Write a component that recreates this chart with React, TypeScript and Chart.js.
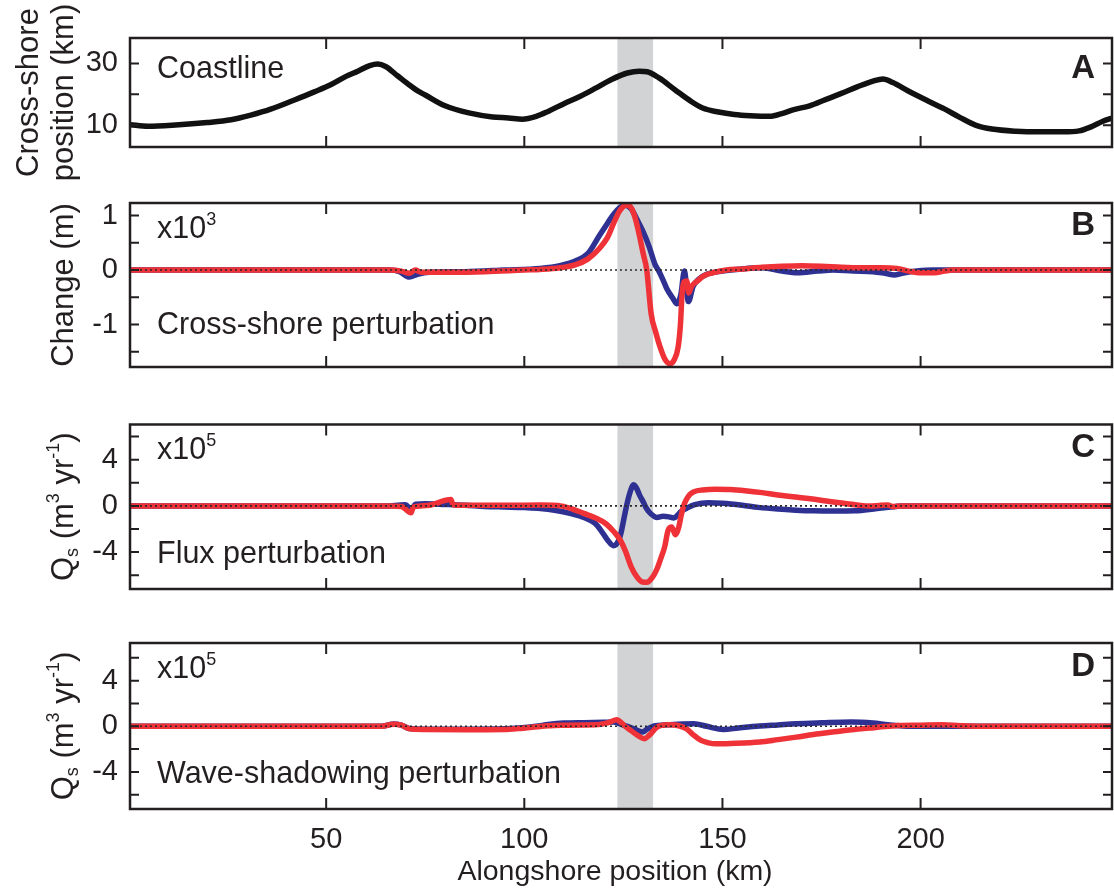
import React, { useEffect, useRef } from "react";
import { Chart, registerables } from "chart.js";

Chart.register(...registerables);

const W = 1114;
const H = 888;
const FONT = "'Liberation Sans', Arial, Helvetica, sans-serif";
const INK = "#231f20";
const BLUE = "#2e3192";
const RED = "#ee3237";
const SHADE = "#d1d3d4";
const FS_TICK = 29;
const FS_NOTE = 30.5;
const FS_TITLE = 31;
const FS_XTITLE = 28.5;
const FS_SUP = 18;

const X_MIN = 0.5;
const X_MAX = 248.3;
const X_TICKS = [50, 100, 150, 200];
const SHADE_START = 123.5;
const SHADE_END = 132.5;

// ---------- Panel A: coastline ----------
const coastX = [0.5, 5, 12, 20, 26, 31, 36, 42, 47, 51, 55, 58, 61, 63, 65, 68, 71, 73, 75, 80, 86, 92, 96, 99.5, 103, 106, 110, 114, 118, 122, 126, 129, 131, 134, 138, 142, 145, 149, 153, 157, 162, 165, 168, 172, 176, 180, 184, 188, 190.5, 193, 197, 202, 206, 210, 214, 218, 224, 230, 236, 240, 243, 246, 248.5];
const coastY = [10.2, 9.7, 10.1, 10.9, 11.8, 13.3, 15.2, 18.2, 20.8, 23.0, 25.8, 27.5, 29.3, 29.8, 29.0, 26.0, 23.0, 21.2, 19.8, 16.3, 14.0, 12.7, 12.4, 12.0, 12.9, 14.5, 17.0, 19.3, 22.0, 24.8, 26.9, 27.5, 27.3, 25.3, 21.5, 17.8, 15.6, 14.3, 13.5, 13.1, 12.9, 13.8, 15.1, 16.3, 18.3, 20.3, 22.4, 24.3, 25.0, 23.8, 21.0, 17.8, 15.3, 12.5, 10.0, 8.8, 8.1, 7.9, 7.9, 8.2, 9.5, 11.3, 12.4];

// ---------- Panel B: cross-shore perturbation (x10^3 m) ----------
const bBlueX = [0.5, 60, 66, 68.5, 71, 73, 76, 85, 95, 104, 109, 113, 116, 119, 121, 122.5, 124, 125.5, 127, 128.5, 130, 131.5, 133, 133.8, 135, 136, 137.5, 138.5, 139.5, 140.4, 141.4, 142.6, 144, 146, 150, 155, 160, 165, 169, 174, 178, 183, 188, 191, 193.5, 196, 199, 203, 210, 248.5];
const bBlueY = [0, 0, 0, -0.03, -0.13, -0.08, -0.04, -0.03, 0.0, 0.03, 0.08, 0.17, 0.3, 0.64, 0.86, 1.02, 1.14, 1.19, 1.12, 0.92, 0.7, 0.43, 0.1, 0.0, -0.18, -0.35, -0.52, -0.62, -0.45, -0.02, -0.58, -0.3, -0.17, -0.08, -0.02, 0.02, 0.04, -0.02, -0.05, -0.02, 0.0, -0.02, -0.03, -0.06, -0.09, -0.05, -0.02, 0, 0, 0];
const bRedX = [0.5, 66, 69, 71, 72.5, 74, 80, 90, 100, 104, 109, 113, 116, 119, 121, 122.5, 124, 125.7, 127, 128, 129, 130, 130.9, 132, 133.2, 134.3, 135.5, 136.7, 137.8, 138.8, 139.4, 139.8, 140.3, 141, 141.5, 142.2, 143.7, 145.5, 147.5, 151, 155, 160, 165, 170, 175, 180, 185, 190, 194, 197, 200, 203.5, 206, 208, 248.5];
const bRedY = [0, 0, -0.02, -0.06, 0.0, -0.04, -0.04, -0.03, 0.0, 0.01, 0.04, 0.1, 0.2, 0.4, 0.6, 0.85, 1.08, 1.19, 1.14, 0.95, 0.65, 0.3, 0.0, -0.8, -1.15, -1.42, -1.64, -1.72, -1.65, -1.42, -1.0, -0.45, -0.22, -0.2, -0.42, -0.3, -0.2, -0.1, -0.05, 0.0, 0.02, 0.05, 0.07, 0.08, 0.07, 0.05, 0.04, 0.04, 0.03, -0.02, -0.05, -0.05, -0.02, 0, 0];

// ---------- Panel C: flux perturbation (x10^5 m3/yr) ----------
const cBlueX = [0.5, 66, 68, 70, 71.5, 72.5, 75, 80, 85, 90, 95, 100, 104, 108, 111.5, 115, 117.8, 119.5, 121, 122.5, 123.8, 124.5, 125.2, 126, 126.8, 127.5, 128.3, 129, 130, 130.8, 132, 133.5, 135, 136.5, 137.7, 138.7, 139.5, 141, 143, 146.5, 150, 155, 159, 164, 168.5, 173, 178, 183.5, 189, 192.5, 195, 198, 248.5];
const cBlueY = [0, 0, 0.05, 0.1, -0.3, 0.15, 0.18, 0.12, 0.05, -0.05, -0.1, -0.15, -0.22, -0.4, -0.65, -1.0, -1.5, -2.2, -2.95, -3.45, -3.0, -2.2, -1.0, 0.3, 1.3, 1.82, 1.55, 1.0, 0.35, -0.2, -0.7, -1.0, -0.9, -0.95, -1.05, -0.8, -0.5, -0.2, 0.1, 0.27, 0.22, 0.05, -0.13, -0.28, -0.37, -0.43, -0.45, -0.43, -0.22, -0.1, -0.02, 0, 0];
const cRedX = [0.5, 66, 69, 71.4, 72, 74, 76, 81.5, 82, 85, 95, 104, 109.5, 112, 115, 118, 120.6, 122.5, 124.3, 125.5, 127, 128.5, 129.8, 131, 131.7, 132.7, 133.5, 134.5, 135.4, 136.3, 137.2, 138.1, 139, 139.5, 140.2, 140.9, 141.8, 142.8, 145, 148.3, 152, 155.7, 160, 164, 168.5, 173.2, 177, 180.6, 184, 187, 190, 191.7, 193, 195, 248.5];
const cRedY = [0, 0, -0.05, -0.6, -0.1, 0.0, 0.05, 0.55, 0.1, 0.05, 0.05, 0.07, -0.02, -0.25, -0.65, -1.05, -1.55, -2.2, -3.0, -3.9, -5.3, -6.2, -6.6, -6.62, -6.45, -6.0, -5.45, -4.5, -3.57, -2.1, -1.82, -2.5, -1.8, -0.95, 0.0, 0.55, 1.0, 1.23, 1.38, 1.44, 1.42, 1.32, 1.15, 0.94, 0.77, 0.57, 0.38, 0.22, 0.08, -0.02, 0.05, 0.07, -0.05, 0, 0];

// ---------- Panel D: wave-shadowing perturbation (x10^5 m3/yr) ----------
const dBlueX = [0.5, 64, 67, 69, 71, 75, 85, 95, 98.5, 103, 106, 110, 115, 120, 122.5, 125, 127.5, 129.8, 131, 132.6, 136.3, 140, 142.8, 146, 150.2, 154, 159.4, 164, 168.6, 175, 182.5, 188, 191.7, 195.4, 198, 248.5];
const dBlueY = [0, 0, 0.2, 0.1, -0.2, -0.25, -0.25, -0.22, -0.15, 0.0, 0.15, 0.28, 0.32, 0.35, 0.37, 0.1, -0.2, -0.5, -0.25, 0.02, 0.13, 0.2, 0.22, 0.0, -0.28, -0.15, 0.02, 0.12, 0.22, 0.3, 0.37, 0.28, 0.13, 0.02, 0, 0];
const dRedX = [0.5, 64, 67, 69, 71, 75, 85, 95, 98.5, 103, 106, 110, 115, 118, 121, 123.4, 124.5, 125.2, 127, 128.8, 130.3, 131.5, 133.5, 136.3, 139, 140.9, 142.5, 144.6, 146.5, 148.3, 152, 159.4, 164, 168.6, 173, 177.8, 182, 187.1, 191, 194.5, 200, 205.6, 210, 215, 248.5];
const dRedY = [0, 0, 0.18, 0.1, -0.22, -0.28, -0.3, -0.28, -0.2, -0.05, 0.05, 0.1, 0.12, 0.13, 0.3, 0.57, 0.3, 0.07, -0.4, -0.85, -1.09, -0.8, -0.07, 0.13, 0.05, -0.22, -0.7, -1.24, -1.45, -1.53, -1.5, -1.38, -1.17, -0.95, -0.72, -0.51, -0.33, -0.16, -0.02, 0.07, 0.1, 0.13, 0.05, 0, 0];

// ---------- tick values ----------
const aTicks = [10, 20, 30];
const aLabeled = [10, 30];
const bTicks = [-1.5, -1, -0.5, 0, 0.5, 1];
const bLabeled = [-1, 0, 1];
const qTicks = [-6, -4, -2, 0, 2, 4, 6];
const qLabeled = [-4, 0, 4];

type Rich = { t: string; s: number; dy: number };
const plain = (t: string, s: number): Rich[] => [{ t, s, dy: 0 }];
const exp10 = (e: string): Rich[] => [
  { t: "x10", s: FS_NOTE, dy: 0 },
  { t: e, s: FS_SUP, dy: -10 },
];
const qsTitle: Rich[] = [
  { t: "Q", s: FS_TITLE, dy: 0 },
  { t: "s", s: FS_SUP, dy: 9 },
  { t: " (m", s: FS_TITLE, dy: 0 },
  { t: "3", s: FS_SUP, dy: -10 },
  { t: " yr", s: FS_TITLE, dy: 0 },
  { t: "-1", s: FS_SUP, dy: -10 },
  { t: ")", s: FS_TITLE, dy: 0 },
];

interface Series {
  xs: number[];
  ys: number[];
  color: string;
}
interface PanelDef {
  key: string;
  top: number;
  bottom: number;
  yMin: number;
  yMax: number;
  yTicks: number[];
  yLabeled: number[];
  series: Series[];
  zeroLine: boolean;
  letter: string;
  letterY: number;
  notes: { parts: Rich[]; y: number }[];
  titleLines: Rich[][];
  titleXs: number[];
  showX: boolean;
}

const PANELS: PanelDef[] = [
  {
    key: "A",
    top: 38,
    bottom: 147,
    yMin: 3.0,
    yMax: 38.2,
    yTicks: aTicks,
    yLabeled: aLabeled,
    series: [{ xs: coastX, ys: coastY, color: "#111111" }],
    zeroLine: false,
    letter: "A",
    letterY: 69,
    notes: [{ parts: plain("Coastline", FS_NOTE), y: 70 }],
    titleLines: [plain("Cross-shore", FS_TITLE), plain("position (km)", FS_TITLE)],
    titleXs: [29, 64],
    showX: false,
  },
  {
    key: "B",
    top: 203,
    bottom: 367,
    yMin: -1.78,
    yMax: 1.23,
    yTicks: bTicks,
    yLabeled: bLabeled,
    series: [
      { xs: bRedX, ys: bRedY, color: RED },
      { xs: bBlueX, ys: bBlueY, color: BLUE },
    ],
    zeroLine: true,
    letter: "B",
    letterY: 226,
    notes: [
      { parts: exp10("3"), y: 230 },
      { parts: plain("Cross-shore perturbation", FS_NOTE), y: 326 },
    ],
    titleLines: [plain("Change (m)", FS_TITLE)],
    titleXs: [64],
    showX: false,
  },
  {
    key: "C",
    top: 424.5,
    bottom: 589,
    yMin: -7.2,
    yMax: 7.05,
    yTicks: qTicks,
    yLabeled: qLabeled,
    series: [
      { xs: cRedX, ys: cRedY, color: RED },
      { xs: cBlueX, ys: cBlueY, color: BLUE },
    ],
    zeroLine: true,
    letter: "C",
    letterY: 448,
    notes: [
      { parts: exp10("5"), y: 451 },
      { parts: plain("Flux perturbation", FS_NOTE), y: 555 },
    ],
    titleLines: [qsTitle],
    titleXs: [64],
    showX: false,
  },
  {
    key: "D",
    top: 643,
    bottom: 809,
    yMin: -7.25,
    yMax: 7.3,
    yTicks: qTicks,
    yLabeled: qLabeled,
    series: [
      { xs: dRedX, ys: dRedY, color: RED },
      { xs: dBlueX, ys: dBlueY, color: BLUE },
    ],
    zeroLine: true,
    letter: "D",
    letterY: 667,
    notes: [
      { parts: exp10("5"), y: 670 },
      { parts: plain("Wave-shadowing perturbation", FS_NOTE), y: 775 },
    ],
    titleLines: [qsTitle],
    titleXs: [64],
    showX: true,
  },
];

const PLOT_LEFT = 130;
const PLOT_RIGHT = 1112;
const X_AXIS_H = 48;

function drawRich(ctx: CanvasRenderingContext2D, parts: Rich[], x: number, y: number, center: boolean) {
  let total = 0;
  for (const p of parts) {
    ctx.font = `${p.s}px ${FONT}`;
    total += ctx.measureText(p.t).width;
  }
  let cx = center ? x - total / 2 : x;
  ctx.textAlign = "left";
  ctx.textBaseline = "middle";
  for (const p of parts) {
    ctx.font = `${p.s}px ${FONT}`;
    ctx.fillText(p.t, cx, y + p.dy);
    cx += ctx.measureText(p.t).width;
  }
}

function makeDecor(p: PanelDef) {
  return {
    id: "decor" + p.key,
    beforeDatasetsDraw(chart: any) {
      const { ctx, chartArea: a, scales } = chart;
      const x0 = scales.x.getPixelForValue(SHADE_START);
      const x1 = scales.x.getPixelForValue(SHADE_END);
      ctx.save();
      ctx.fillStyle = SHADE;
      ctx.fillRect(x0, a.top, x1 - x0, a.bottom - a.top);
      ctx.restore();
    },
    afterDatasetsDraw(chart: any) {
      const { ctx, chartArea: a, scales } = chart;
      if (p.zeroLine) {
        const y0 = scales.y.getPixelForValue(0);
        ctx.save();
        ctx.strokeStyle = "#2a2a2a";
        ctx.lineWidth = 1.6;
        ctx.setLineDash([2, 3]);
        ctx.beginPath();
        ctx.moveTo(a.left, y0);
        ctx.lineTo(a.right, y0);
        ctx.stroke();
        ctx.restore();
      }
    },
    afterDraw(chart: any) {
      const { ctx, chartArea: a, scales } = chart;
      ctx.save();
      ctx.strokeStyle = INK;
      ctx.lineWidth = 2;
      ctx.beginPath();
      for (const v of X_TICKS) {
        const px = scales.x.getPixelForValue(v);
        ctx.moveTo(px, a.top);
        ctx.lineTo(px, a.top + 11);
        ctx.moveTo(px, a.bottom);
        ctx.lineTo(px, a.bottom - 11);
      }
      for (const v of p.yTicks) {
        const py = scales.y.getPixelForValue(v);
        ctx.moveTo(a.left, py);
        ctx.lineTo(a.left + 9, py);
        ctx.moveTo(a.right, py);
        ctx.lineTo(a.right - 9, py);
      }
      ctx.stroke();
      ctx.lineWidth = 2.5;
      ctx.strokeRect(a.left, a.top, a.right - a.left, a.bottom - a.top);

      ctx.fillStyle = INK;
      for (const n of p.notes) drawRich(ctx, n.parts, 157, n.y, false);

      ctx.font = `bold 33px ${FONT}`;
      ctx.textAlign = "right";
      ctx.textBaseline = "middle";
      ctx.fillText(p.letter, 1095, p.letterY);

      const cy = (a.top + a.bottom) / 2;
      p.titleLines.forEach((line, i) => {
        ctx.save();
        ctx.translate(p.titleXs[i], cy);
        ctx.rotate(-Math.PI / 2);
        drawRich(ctx, line, 0, 0, true);
        ctx.restore();
      });

      if (p.showX) {
        ctx.font = `${FS_XTITLE}px ${FONT}`;
        ctx.textAlign = "center";
        ctx.textBaseline = "middle";
        ctx.fillText("Alongshore position (km)", 615, 872);
      }
      ctx.restore();
    },
  };
}

function PanelChart({ p }: { p: PanelDef }) {
  const ref = useRef<HTMLCanvasElement | null>(null);
  useEffect(() => {
    if (!ref.current) return;
    const xH = p.showX ? X_AXIS_H : 0;
    const chart = new Chart(ref.current, {
      type: "line",
      data: {
        datasets: p.series.map((s, i) => ({
          data: s.xs.map((x, j) => ({ x, y: s.ys[j] })),
          borderColor: s.color,
          borderWidth: 5.5,
          pointRadius: 0,
          fill: false,
          cubicInterpolationMode: "monotone" as const,
          borderCapStyle: "round" as const,
          borderJoinStyle: "round" as const,
          order: i,
        })),
      },
      options: {
        responsive: false,
        animation: false,
        devicePixelRatio: 1,
        events: [],
        layout: {
          padding: { left: 0, right: W - PLOT_RIGHT, top: p.top, bottom: H - p.bottom - xH },
        },
        plugins: { legend: { display: false }, tooltip: { enabled: false } },
        scales: {
          x: {
            type: "linear",
            min: X_MIN,
            max: X_MAX,
            grid: { display: false },
            border: { display: false },
            afterBuildTicks: (s: any) => {
              s.ticks = X_TICKS.map((v) => ({ value: v }));
            },
            afterFit: (s: any) => {
              s.height = xH;
            },
            ticks: {
              display: p.showX,
              autoSkip: false,
              padding: 6,
              color: INK,
              font: { family: FONT, size: FS_TICK },
              maxRotation: 0,
              callback: (v: any) => String(v),
            },
          },
          y: {
            type: "linear",
            min: p.yMin,
            max: p.yMax,
            grid: { display: false },
            border: { display: false },
            afterBuildTicks: (s: any) => {
              s.ticks = p.yTicks.map((v) => ({ value: v }));
            },
            afterFit: (s: any) => {
              s.width = PLOT_LEFT;
            },
            ticks: {
              autoSkip: false,
              padding: 4,
              color: INK,
              font: { family: FONT, size: FS_TICK },
              callback: (v: any) => (p.yLabeled.includes(Number(v)) ? String(v) : ""),
            },
          },
        },
      },
      plugins: [makeDecor(p)],
    } as any);
    return () => chart.destroy();
  }, [p]);
  return (
    <canvas
      ref={ref}
      width={W}
      height={H}
      style={{ position: "absolute", left: 0, top: 0, width: W, height: H }}
    />
  );
}

export default function App() {
  return (
    <div style={{ position: "absolute", left: 0, top: 0, width: W, height: H, background: "#ffffff", overflow: "hidden" }}>
      {PANELS.map((p) => (
        <PanelChart key={p.key} p={p} />
      ))}
    </div>
  );
}
